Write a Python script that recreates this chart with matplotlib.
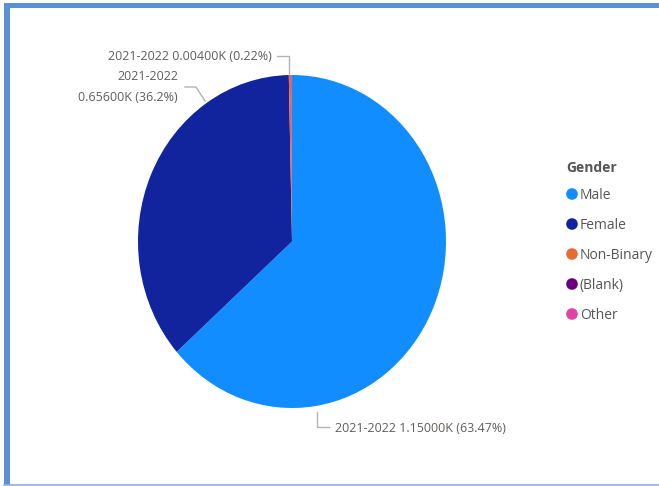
import matplotlib.pyplot as plt
from matplotlib.patches import Rectangle

# Gender split for 2021-2022 (counts)
genders = ["Male", "Female", "Non-Binary", "(Blank)", "Other"]
counts = [1150, 656, 4, 1, 1]
colors = ["#118DFF", "#12239E", "#E66C37", "#6B007B", "#E044A7"]
year = "2021-2022"

plt.rcParams['font.family'] = ['Open Sans', 'DejaVu Sans']

W, H = 659, 486
fig = plt.figure(figsize=(W / 100, H / 100), dpi=100)

# pie area in pixels: left, top, right, bottom
pl, pt, pr, pb = 138, 75, 446, 408
ax = fig.add_axes([pl / W, 1 - pb / H, (pr - pl) / W, (pb - pt) / H])
ax.pie(counts, colors=colors, startangle=90, counterclock=False, radius=1,
       wedgeprops=dict(linewidth=0))
ax.set_aspect('auto')
ax.set_xlim(-1, 1)
ax.set_ylim(-1, 1)
ax.axis('off')

# overlay in pixel coordinates for labels, legend and frame
ov = fig.add_axes([0, 0, 1, 1], zorder=5)
ov.set_xlim(0, W)
ov.set_ylim(H, 0)
ov.axis('off')
ov.patch.set_alpha(0)

total = sum(counts)


def fmt(v):
    return f"{v / 1000:.5f}K"


txt = "#605E5C"
line_c = "#b3b3b3"
fs = 9

# Non-Binary label
ov.plot([277, 289, 289], [56, 56, 74], color=line_c, lw=1)
ov.text(272, 56, f"{year} {fmt(counts[2])} ({counts[2] / total * 100:.2f}%)",
        ha='right', va='center', color=txt, fontsize=fs)

# Female label
ov.plot([185, 196, 205], [87, 87, 101], color=line_c, lw=1)
ov.text(178, 77, year, ha='right', va='center', color=txt, fontsize=fs)
ov.text(178, 97, f"{fmt(counts[1])} ({counts[1] / total * 100:.1f}%)",
        ha='right', va='center', color=txt, fontsize=fs)

# Male label
ov.plot([317, 317, 329], [412, 427, 427], color=line_c, lw=1)
ov.text(335, 428, f"{year} {fmt(counts[0])} ({counts[0] / total * 100:.2f}%)",
        ha='left', va='center', color=txt, fontsize=fs)

# legend
ov.text(566, 168, "Gender", ha='left', va='center', color="#555555",
        fontsize=10, fontweight='bold')
for i, (g, c) in enumerate(zip(genders, colors)):
    y = 194 + i * 30
    ov.scatter([572], [y], s=70, color=c, edgecolors='none')
    ov.text(580, y + 1, g, ha='left', va='center', color="#555555", fontsize=10)

# frame
frame_c = "#5B8FD8"
ov.add_patch(Rectangle((4, 3), 6, 482, color=frame_c, lw=0))
ov.add_patch(Rectangle((4, 3), W, 5.5, color=frame_c, lw=0))
ov.plot([4, W], [485.3, 485.3], color="#8FB0E3", lw=1.2)

fig.savefig("out.png", dpi=100)
